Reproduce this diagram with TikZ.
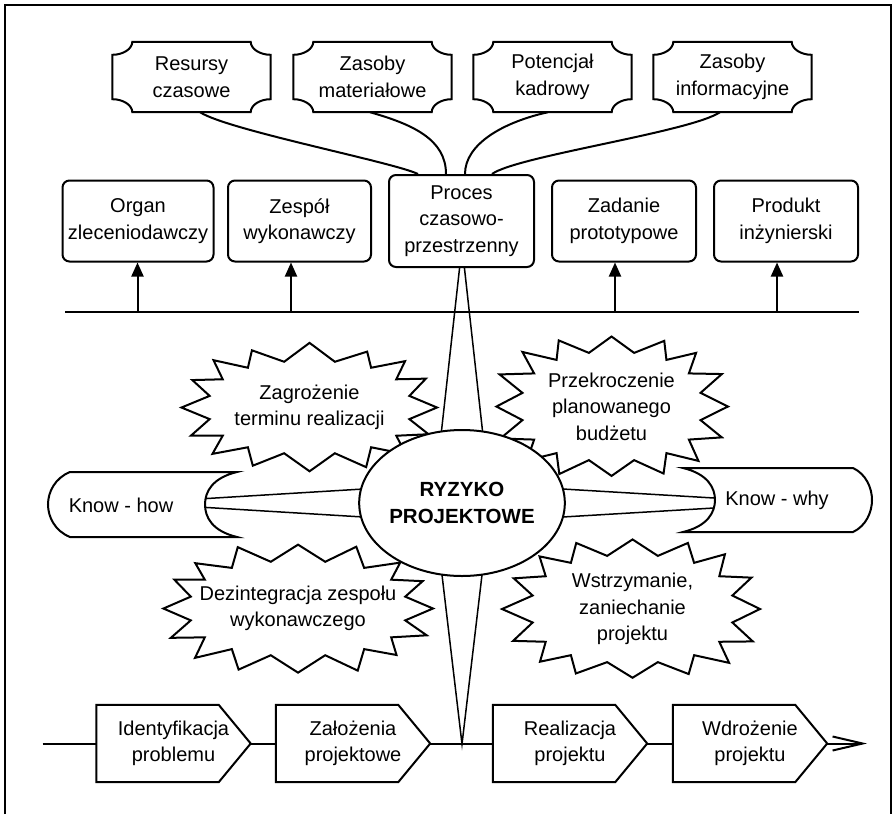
\documentclass[tikz,border=0pt]{standalone}
\usepackage{fontspec}
\setmainfont{Liberation Sans}
\usetikzlibrary{shapes.geometric,arrows.meta,calc}
\pgfdeclarelayer{back}
\pgfdeclarelayer{mid}
\pgfsetlayers{back,mid,main}

% outline of a plaque: rectangle with concave (cut-in) corners
\newcommand\plaqueoutline[1]{%
  \draw[lw]
    ($(#1.north west)+(0,13)$) .. controls +(11,0) and +(0,7) .. ($(#1.north west)+(20,0)$)
    -- ($(#1.north east)+(-20,0)$) .. controls +(0,7) and +(-11,0) .. ($(#1.north east)+(0,13)$)
    -- ($(#1.south east)+(0,-13)$) .. controls +(-11,0) and +(0,-7) .. ($(#1.south east)+(-20,0)$)
    -- ($(#1.south west)+(20,0)$) .. controls +(0,-7) and +(11,0) .. ($(#1.south west)+(0,-13)$)
    -- cycle;}

% outline of a phase: flat left side, pointed right side
\newcommand\stageoutline[1]{%
  \draw[lw] (#1.north west) -- ($(#1.north east)+(-32,0)$) -- (#1.east)
    -- ($(#1.south east)+(-32,0)$) -- (#1.south west) -- cycle;}

% explosion outline: 16 points round a rounded box
% #1 node, #2 half width, #3 half height, #4 side depth, #5 top depth, #6 seed
\newcommand\burstoutline[6]{%
  \pgfmathsetseed{#6}%
  \draw[lw, fill=white, line join=miter] ($(#1)+(#2,0)$)
    \foreach \k in {1,...,31} {
      -- ($(#1)+({(#2-mod(\k,2)*#4+(1-mod(\k,2))*7*(rnd-0.5))*sx(\k*11.25)},{(#3-mod(\k,2)*#5+(1-mod(\k,2))*6*(rnd-0.5))*sy(\k*11.25)})$)
    } -- cycle;}

\begin{document}
\begin{tikzpicture}[x=1pt,y=-1pt,
  declare function={
    sx(\t)=ifthenelse(cos(\t)<0,-1,1)*pow(abs(cos(\t))+0.0001,0.85);
    sy(\t)=ifthenelse(sin(\t)<0,-1,1)*pow(abs(sin(\t))+0.0001,0.85);},
  every node/.style={font=\fontsize{20}{26.5}\selectfont, align=center, inner sep=0pt},
  lw/.style={line width=2pt},
  plaque/.style={minimum width=158pt, minimum height=70pt},
  rbox/.style={draw, lw, rounded corners=7pt, fill=white, minimum height=81pt},
  stage/.style={minimum width=154pt, minimum height=77pt},
  up/.style={lw, -{Triangle[length=14pt,width=12pt]}},
  spike/.style={line width=1.5pt, fill=white, line join=miter},
  scroll/.style={lw, fill=white},
]
\useasboundingbox (0,0) rectangle (896,814);

% frame
\draw[lw] (5,814) -- (5,5) -- (891,5) -- (891,814);

% resources
\node[plaque] (res) at (191.5,77) {Resursy\\czasowe};
\node[plaque] (mat) at (372.5,77) {Zasoby\\materiałowe};
\node[plaque] (kad) at (552.5,77) {Potencjał\\kadrowy};
\node[plaque] (inf) at (732.5,77) {Zasoby\\informacyjne};
\plaqueoutline{res}
\plaqueoutline{mat}
\plaqueoutline{kad}
\plaqueoutline{inf}

% project elements
\node[rbox, minimum width=151pt] (org) at (138,221) {Organ\\zleceniodawczy};
\node[rbox, minimum width=143pt] (zes) at (299.5,221) {Zespół\\wykonawczy};
\node[rbox, minimum width=145pt, minimum height=92pt] (proc) at (461.5,221) {Proces\\czasowo-\\przestrzenny};
\node[rbox, minimum width=144pt] (zad) at (624,221) {Zadanie\\prototypowe};
\node[rbox, minimum width=144pt] (prod) at (786,221) {Produkt\\inżynierski};

% resources feeding the process
\draw[lw] ($(res.south)+(8.5,0)$) .. controls +(28,18) and +(-25,-12) .. ($(proc.north)+(-43.5,0)$);
\draw[lw] ($(mat.south)+(-2.5,0)$) .. controls +(42,12) and +(0,-35) .. ($(proc.north)+(-15.5,0)$);
\draw[lw] ($(kad.south)+(-4.5,0)$) .. controls +(-45,10) and +(0,-30) .. ($(proc.north)+(3.5,0)$);
\draw[lw] ($(inf.south)+(-12.5,0)$) .. controls +(-30,20) and +(25,-18) .. ($(proc.north)+(30.5,0)$);

% bus with arrows
\coordinate (busL) at (65,312);
\coordinate (busR) at (859,312);
\draw[lw] (busL) -- (busR);
\coordinate (b1) at (137.5,312);
\coordinate (b2) at (291,312);
\coordinate (b3) at (615,312);
\coordinate (b4) at (777,312);
\draw[up] (b1) -- (b1 |- org.south);
\draw[up] (b2) -- (b2 |- zes.south);
\draw[up] (b3) -- (b3 |- zad.south);
\draw[up] (b4) -- (b4 |- prod.south);

% compass star behind the central ellipse
\coordinate (ctr) at (462,503);
\begin{pgfonlayer}{back}
\draw[spike] ($(ctr)+(0,-257)$) -- ($(ctr)+(28.5,0)$) -- ($(ctr)+(0,241)$) -- ($(ctr)+(-28.5,0)$) -- cycle;
\draw[spike] ($(ctr)+(-329,0)$) -- ($(ctr)+(0,-20)$) -- ($(ctr)+(336,0)$) -- ($(ctr)+(0,20)$) -- cycle;
\end{pgfonlayer}

\node[draw, lw, ellipse, fill=white, minimum width=178pt, minimum height=146pt,
  font=\fontsize{20.5}{27}\selectfont\bfseries] (risk) at (ctr) {RYZYKO\\PROJEKTOWE};

% knowledge scrolls
\node (kh) at (121,505) {Know - how};
\node (kw) at (777,500) {Know - why};
\begin{pgfonlayer}{mid}
\draw[scroll] (70,472) -- (237,472) .. controls (212,478) and (205,492) .. (205,504.5)
  .. controls (205,517) and (212,531) .. (237,537) -- (70,537)
  .. controls (55,531) and (48,517) .. (48,504.5) .. controls (48,492) and (55,478) .. (70,472) -- cycle;
\draw[scroll] (683,468) -- (853,468) .. controls (866,474) and (872,488) .. (872,500)
  .. controls (872,512) and (866,526) .. (853,532) -- (683,532)
  .. controls (708,526) and (715,512) .. (715,500) .. controls (715,488) and (708,474) .. (683,468) -- cycle;
\end{pgfonlayer}

% risk factors
\node (b-term) at (309.5,407.5) {Zagrożenie\\terminu realizacji};
\node (b-bud) at (611.5,406.5) {Przekroczenie\\planowanego\\budżetu};
\node (b-team) at (298,608.5) {Dezintegracja zespołu\\wykonawczego};
\node (b-stop) at (632.5,609) {Wstrzymanie,\\zaniechanie\\projektu};
\begin{pgfonlayer}{mid}
\burstoutline{b-term}{127.5}{62.5}{26}{16}{3}
\burstoutline{b-bud}{116.5}{71.5}{26}{17}{8}
\burstoutline{b-team}{135}{63.5}{26}{16}{12}
\burstoutline{b-stop}{127.5}{71}{26}{17}{21}
\end{pgfonlayer}

% project phases
\node[stage] (s1) at (173.5,743.5) {Identyfikacja\\problemu};
\node[stage] (s2) at (353,743.5) {Założenia\\projektowe};
\node[stage] (s3) at (570,743.5) {Realizacja\\projektu};
\node[stage] (s4) at (750,743.5) {Wdrożenie\\projektu};
\stageoutline{s1}
\stageoutline{s2}
\stageoutline{s3}
\stageoutline{s4}
\coordinate (flowL) at (42.7,743.5);
\coordinate (flowR) at (867,743.5);
\draw[lw] (flowL) -- (s1.west);
\draw[lw] (s1.east) -- (s2.west);
\draw[lw] (s2.east) -- (s3.west);
\draw[lw] (s3.east) -- (s4.west);
\draw[lw, -{Straight Barb[length=30pt,width=14pt]}] (s4.east) -- (flowR);
\end{tikzpicture}
\end{document}
